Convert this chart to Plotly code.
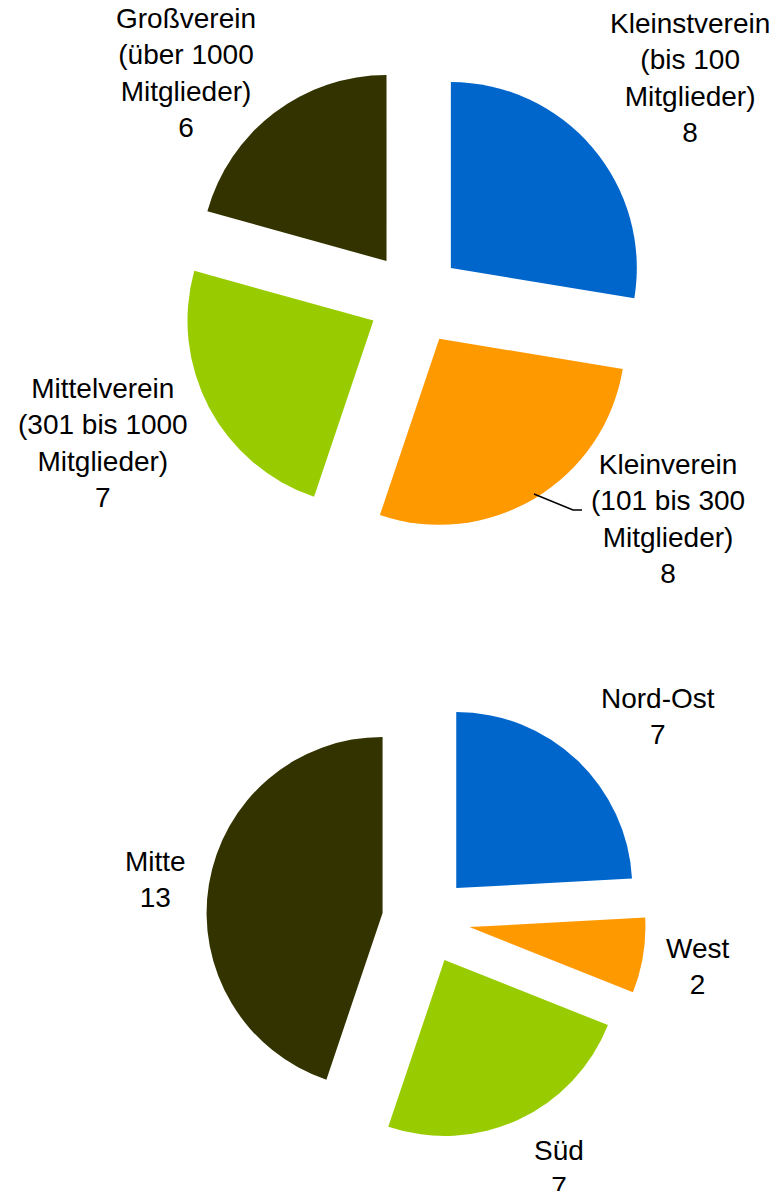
import plotly.graph_objects as go

W, H = 777, 1191

# ---- data ----
size_labels = ["Kleinstverein<br>(bis 100<br>Mitglieder)",
               "Kleinverein<br>(101 bis 300<br>Mitglieder)",
               "Mittelverein<br>(301 bis 1000<br>Mitglieder)",
               "Großverein<br>(über 1000<br>Mitglieder)"]
size_values = [8, 8, 7, 6]

region_labels = ["Nord-Ost", "West", "Süd", "Mitte"]
region_values = [7, 2, 7, 13]

colors = ["#0066CC", "#FF9900", "#99CC00", "#333300"]

# ---- layout helpers (pixel -> paper) ----
def px(x):
    return x / W

def py(y):
    return 1 - y / H

def square_domain(cx, cy, half):
    return dict(x=[px(cx - half), px(cx + half)], y=[py(cy + half), py(cy - half)])

fig = go.Figure()

fig.add_trace(go.Pie(
    labels=size_labels, values=size_values, sort=False, direction="clockwise",
    rotation=0, pull=0.253, marker=dict(colors=colors, line=dict(width=0)),
    textinfo="none", showlegend=False, hoverinfo="label+value",
    domain=square_domain(415, 298.5, 233),
))

fig.add_trace(go.Pie(
    labels=region_labels, values=region_values, sort=False, direction="clockwise",
    rotation=0, pull=0.25, marker=dict(colors=colors, line=dict(width=0)),
    textinfo="none", showlegend=False, hoverinfo="label+value",
    domain=square_domain(426, 920, 220),
))

# label placement (pixel centres)
size_pos = [(690, 78), (668, 519), (103, 443), (186, 73)]
region_pos = [(658, 716), (697, 966), (559, 1168), (155, 879)]

font = dict(family="Liberation Sans, Arial, sans-serif", size=28, color="black")
annotations = []
for lab, val, (x, y) in zip(size_labels, size_values, size_pos):
    annotations.append(dict(text=f"{lab}<br>{val}", x=px(x), y=py(y), xref="paper", yref="paper",
                            xanchor="center", yanchor="middle", showarrow=False, font=font))
for lab, val, (x, y) in zip(region_labels, region_values, region_pos):
    annotations.append(dict(text=f"{lab}<br>{val}", x=px(x), y=py(y), xref="paper", yref="paper",
                            xanchor="center", yanchor="middle", showarrow=False, font=font))

# leader line for Kleinverein label
shapes = [dict(type="path", xref="paper", yref="paper",
               path=f"M {px(534)} {py(494)} L {px(573)} {py(510)} L {px(582)} {py(510)}",
               line=dict(color="black", width=1.5))]

fig.update_layout(
    width=W, height=H, margin=dict(l=0, r=0, t=0, b=0),
    paper_bgcolor="white", plot_bgcolor="white",
    annotations=annotations, shapes=shapes,
)

fig.write_html("out.html", config={"displayModeBar": False},
               post_script="document.body.style.margin='0';")
